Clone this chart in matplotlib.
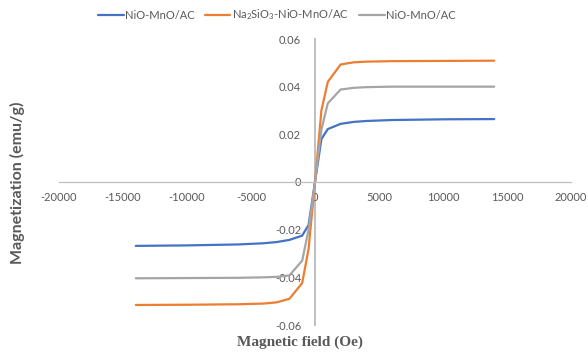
import numpy as np
import matplotlib.pyplot as plt

# Applied field (Oe) and magnetization (emu/g) for each sample
field = [-14000, -10000, -6000, -4000, -3000, -2000, -1000, -500, 0,
         500, 1000, 2000, 3000, 4000, 6000, 10000, 14000]

m_nio_mno = [-0.0268, -0.0266, -0.0262, -0.0257, -0.0252, -0.0243, -0.0225, -0.0180, 0.0,
             0.0180, 0.0222, 0.0244, 0.0252, 0.0256, 0.0260, 0.0263, 0.0264]
m_na2sio3 = [-0.0516, -0.0515, -0.0513, -0.0510, -0.0505, -0.0490, -0.0424, -0.0280, 0.0,
             0.0300, 0.0420, 0.0493, 0.0502, 0.0505, 0.0507, 0.0508, 0.0509]
m_nio_mno_2 = [-0.0404, -0.0403, -0.0402, -0.0400, -0.0398, -0.0392, -0.0330, -0.0200, 0.0,
               0.0220, 0.0330, 0.0388, 0.0395, 0.0398, 0.0400, 0.0400, 0.0400]

labels = ["NiO-MnO/AC", r"Na$_2$SiO$_3$-NiO-MnO/AC", "NiO-MnO/AC"]
colors = ["#4472C4", "#ED7D31", "#A5A5A5"]

x_ticks = [-20000, -15000, -10000, -5000, 0, 5000, 10000, 15000, 20000]
y_ticks = [-0.06, -0.04, -0.02, 0, 0.02, 0.04, 0.06]

plt.rcParams["font.family"] = ["Lato", "DejaVu Sans"]
plt.rcParams["mathtext.default"] = "regular"

TXT = "#595959"
AXIS = "#BFBFBF"

fig = plt.figure(figsize=(5.88, 3.54), dpi=100)
ax = fig.add_axes([59 / 588, 29 / 354, 512 / 588, 286 / 354])

for ys, lab, c in zip([m_nio_mno, m_na2sio3, m_nio_mno_2], labels, colors):
    ax.plot(field, ys, color=c, lw=1.6, label=lab, solid_capstyle="round")

ax.set_xlim(-20000, 20000)
ax.set_ylim(-0.06, 0.06)

for s in ["top", "right"]:
    ax.spines[s].set_visible(False)
ax.spines["left"].set_position("zero")
ax.spines["bottom"].set_position("zero")
ax.spines["left"].set_color(AXIS)
ax.spines["bottom"].set_color(AXIS)
ax.spines["left"].set_linewidth(1.4)
ax.spines["bottom"].set_linewidth(0.9)
ax.spines["left"].set_zorder(0.5)

ax.set_xticks(x_ticks)
ax.set_xticklabels([str(v) for v in x_ticks])
ax.set_yticks(y_ticks)
ax.set_yticklabels(["0" if v == 0 else f"{v:.2f}" for v in y_ticks])
ax.tick_params(axis="both", length=0, labelsize=8, colors=TXT)
ax.tick_params(axis="x", pad=7)
ax.tick_params(axis="y", pad=10)

fig.text(300 / 588, 12 / 354, "Magnetic field (Oe)", ha="center", va="center",
         fontsize=11, fontweight="bold", color=TXT, family="Liberation Serif")
fig.text(17 / 588, 171 / 354, "Magnetization (emu/g)", ha="center", va="center",
         rotation=90, fontsize=11.5, fontweight="bold", color=TXT)

fig.legend(loc="center", bbox_to_anchor=(277 / 588, 339 / 354), ncol=3,
           frameon=False, fontsize=8, handlelength=2.3, handletextpad=0.15,
           columnspacing=0.9, labelcolor=TXT)

fig.savefig("out.png", dpi=100)
